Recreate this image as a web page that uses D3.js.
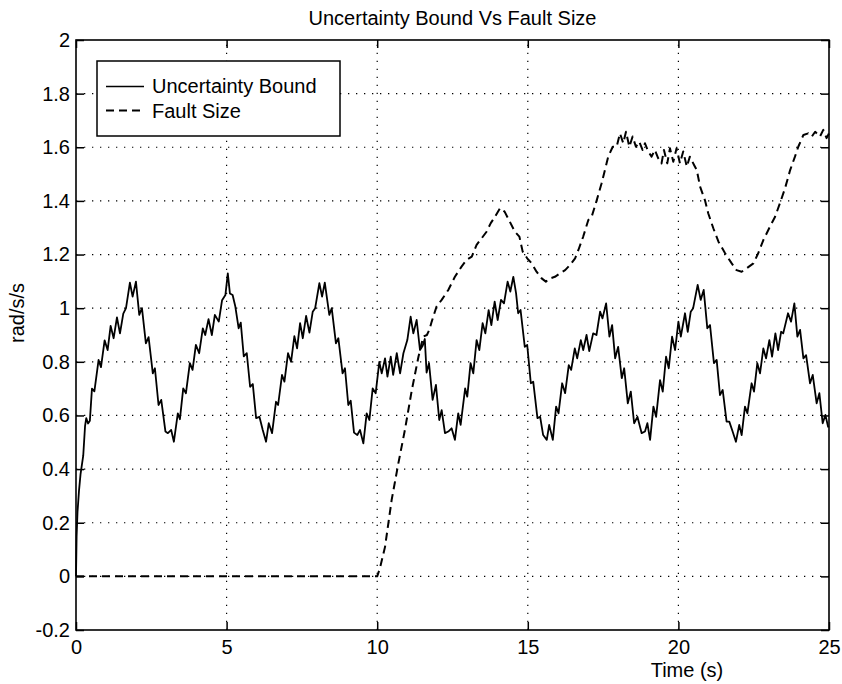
<!DOCTYPE html>
<html>
<head>
<meta charset="utf-8">
<script src="https://cdn.jsdelivr.net/npm/d3@7/dist/d3.min.js"></script>
<style>
  html, body { margin: 0; padding: 0; background: #fff; }
  svg { display: block; }
  text { font-family: Arial, "Liberation Sans", Helvetica, sans-serif; fill: #000; }
</style>
</head>
<body>
<svg id="chart" width="842" height="684"></svg>
<script>
// ---- Data ----
const chartTitle = "Uncertainty Bound Vs Fault Size";
const xLabel = "Time (s)";
const yLabel = "rad/s/s";
const seriesNames = ["Uncertainty Bound", "Fault Size"];
const xTicks = [0, 5, 10, 15, 20, 25];
const yTicks = [-0.2, 0, 0.2, 0.4, 0.6, 0.8, 1, 1.2, 1.4, 1.6, 1.8, 2];

const boundT = [0,0.02,0.05,0.10,0.15,0.24,0.30,0.34,0.40,0.46,0.53,0.61,0.75,0.83,0.95,1.05,1.15,1.25,1.36,1.46,1.57,1.66,1.79,1.88,1.99,2.10,2.19,2.32,2.41,2.55,2.62,2.74,2.83,2.97,3.05,3.16,3.25,3.38,3.45,3.56,3.65,3.78,3.87,3.98,4.09,4.21,4.29,4.40,4.51,4.61,4.74,4.85,4.96,5.04,5.11,5.20,5.29,5.40,5.47,5.57,5.67,5.78,5.87,5.98,6.09,6.20,6.31,6.40,6.51,6.64,6.71,6.84,6.92,7.04,7.14,7.25,7.34,7.44,7.53,7.64,7.75,7.86,7.94,8.08,8.17,8.26,8.41,8.49,8.63,8.71,8.85,8.93,9.04,9.12,9.23,9.34,9.43,9.54,9.65,9.74,9.85,9.95,10.07,10.15,10.26,10.34,10.45,10.53,10.65,10.76,10.87,11.00,11.11,11.20,11.31,11.42,11.51,11.58,11.64,11.72,11.84,11.95,12.06,12.14,12.25,12.36,12.47,12.58,12.69,12.77,12.92,12.99,13.10,13.19,13.30,13.39,13.50,13.59,13.70,13.79,13.90,14.00,14.11,14.21,14.33,14.42,14.52,14.61,14.68,14.76,14.90,14.98,15.10,15.18,15.32,15.41,15.51,15.63,15.71,15.83,15.94,16.02,16.14,16.24,16.36,16.44,16.56,16.64,16.76,16.84,16.95,17.04,17.17,17.28,17.40,17.48,17.60,17.71,17.80,17.90,18.00,18.12,18.20,18.32,18.42,18.53,18.64,18.78,18.89,18.97,19.06,19.17,19.26,19.39,19.48,19.59,19.68,19.79,19.89,20.00,20.08,20.22,20.31,20.41,20.49,20.64,20.74,20.84,20.96,21.05,21.18,21.27,21.38,21.47,21.60,21.69,21.80,21.91,22.02,22.10,22.21,22.29,22.43,22.51,22.62,22.71,22.82,22.91,23.02,23.11,23.22,23.31,23.41,23.48,23.64,23.74,23.85,23.95,24.04,24.15,24.24,24.37,24.46,24.59,24.68,24.79,24.88,24.97,25.00];
const boundV = [0,0.15,0.24,0.32,0.38,0.45,0.56,0.59,0.57,0.58,0.70,0.69,0.807,0.78,0.88,0.844,0.934,0.888,0.966,0.906,0.98,1.0,1.095,1.043,1.099,0.975,1.0,0.869,0.892,0.757,0.776,0.639,0.658,0.540,0.534,0.546,0.502,0.608,0.586,0.701,0.683,0.795,0.770,0.863,0.832,0.925,0.900,0.959,0.900,0.975,0.950,1.030,1.049,1.130,1.055,1.049,1.006,0.925,0.946,0.820,0.832,0.707,0.717,0.590,0.595,0.546,0.502,0.571,0.534,0.651,0.639,0.751,0.726,0.832,0.800,0.896,0.850,0.944,0.888,0.971,0.909,0.987,1.000,1.093,1.043,1.095,0.975,1.000,0.869,0.888,0.757,0.776,0.639,0.655,0.536,0.527,0.546,0.496,0.608,0.583,0.701,0.683,0.800,0.757,0.813,0.745,0.819,0.751,0.832,0.757,0.832,0.881,0.968,0.906,0.956,0.844,0.860,0.885,0.760,0.795,0.658,0.714,0.583,0.620,0.534,0.540,0.552,0.509,0.608,0.565,0.701,0.670,0.795,0.757,0.881,0.844,0.944,0.906,0.993,0.937,1.024,0.956,1.031,1.018,1.099,1.062,1.117,1.056,0.981,0.993,0.856,0.863,0.720,0.726,0.590,0.595,0.527,0.509,0.565,0.509,0.633,0.608,0.720,0.683,0.788,0.770,0.850,0.813,0.881,0.844,0.900,0.840,0.906,0.900,0.987,0.962,1.018,0.894,0.937,0.813,0.856,0.739,0.776,0.645,0.689,0.571,0.595,0.534,0.540,0.571,0.509,0.633,0.595,0.732,0.689,0.819,0.776,0.894,0.844,0.950,0.894,0.981,0.912,0.987,1.000,1.087,1.031,1.068,0.925,0.937,0.795,0.807,0.676,0.695,0.577,0.577,0.540,0.502,0.565,0.527,0.633,0.608,0.720,0.689,0.795,0.757,0.850,0.813,0.881,0.819,0.906,0.844,0.912,0.906,0.981,0.950,1.018,0.894,0.919,0.813,0.825,0.720,0.751,0.645,0.683,0.571,0.602,0.558,0.560];

const faultT = [0,10.00,10.09,10.26,10.48,10.70,10.92,11.15,11.37,11.53,11.65,11.73,11.81,11.97,12.14,12.36,12.58,12.80,12.97,13.14,13.30,13.47,13.63,13.77,13.91,14.08,14.23,14.40,14.57,14.72,14.83,14.98,15.13,15.29,15.46,15.60,15.74,15.90,16.07,16.24,16.40,16.57,16.68,16.84,17.01,17.12,17.29,17.45,17.56,17.67,17.82,17.95,18.06,18.17,18.26,18.37,18.48,18.59,18.70,18.81,18.89,19.00,19.11,19.22,19.33,19.44,19.52,19.63,19.72,19.83,19.94,20.05,20.16,20.28,20.38,20.52,20.61,20.72,20.88,20.99,21.16,21.33,21.55,21.77,21.93,22.10,22.27,22.49,22.65,22.82,23.04,23.21,23.37,23.54,23.71,23.87,23.98,24.15,24.31,24.43,24.54,24.70,24.81,24.92,25.00];
const faultV = [0,0,0.03,0.11,0.285,0.42,0.546,0.695,0.819,0.894,0.900,0.919,0.95,1.006,1.031,1.068,1.117,1.155,1.18,1.192,1.236,1.261,1.285,1.317,1.341,1.373,1.36,1.323,1.285,1.267,1.211,1.186,1.167,1.136,1.111,1.099,1.111,1.117,1.13,1.142,1.161,1.186,1.217,1.267,1.329,1.341,1.403,1.466,1.515,1.565,1.602,1.602,1.652,1.615,1.658,1.602,1.64,1.602,1.621,1.59,1.615,1.584,1.565,1.59,1.559,1.54,1.59,1.54,1.596,1.546,1.596,1.54,1.584,1.528,1.565,1.534,1.515,1.453,1.403,1.354,1.298,1.248,1.205,1.167,1.142,1.136,1.149,1.167,1.205,1.254,1.304,1.341,1.391,1.447,1.515,1.565,1.602,1.646,1.652,1.64,1.658,1.64,1.665,1.634,1.652];

// ---- Layout ----
const W = 842, H = 684;
const L = 76, R = 829, T = 40, B = 630;
const FS = 20;

const svg = d3.select("#chart");
svg.append("rect").attr("width", W).attr("height", H).attr("fill", "#fff");

const x = d3.scaleLinear().domain([0, 25]).range([L, R]);
const y = d3.scaleLinear().domain([-0.2, 2]).range([B, T]);

const fmt = d => (Math.abs(d) < 1e-9 ? "0" : String(+d.toFixed(1)));

// Grid (dotted)
const grid = svg.append("g").attr("stroke", "#000").attr("stroke-width", 1.2)
  .attr("stroke-dasharray", "1.3,6.7").attr("fill", "none");
grid.selectAll("line.gx").data(xTicks.filter(d => d > 0 && d < 25)).enter().append("line")
  .attr("x1", d => x(d)).attr("x2", d => x(d)).attr("y1", B).attr("y2", T);
grid.selectAll("line.gy").data(yTicks.filter(d => d > -0.2 && d < 2)).enter().append("line")
  .attr("x1", L).attr("x2", R).attr("y1", d => y(d)).attr("y2", d => y(d));

// Axes
const tl = 8;
const axB = svg.append("g").attr("transform", `translate(0,${B})`)
  .call(d3.axisBottom(x).tickValues(xTicks).tickFormat(fmt).tickSize(-tl).tickPadding(10));
const axL = svg.append("g").attr("transform", `translate(${L},0)`)
  .call(d3.axisLeft(y).tickValues(yTicks).tickFormat(fmt).tickSize(-tl).tickPadding(6));
const axT = svg.append("g").attr("transform", `translate(0,${T})`)
  .call(d3.axisTop(x).tickValues(xTicks).tickFormat("").tickSize(-tl));
const axR = svg.append("g").attr("transform", `translate(${R},0)`)
  .call(d3.axisRight(y).tickValues(yTicks).tickFormat("").tickSize(-tl));
[axB, axL, axT, axR].forEach(a => {
  a.select(".domain").remove();
  a.selectAll(".tick line").attr("stroke", "#000").attr("stroke-width", 1.5);
  a.selectAll(".tick text").attr("font-size", FS).attr("font-family", "Arial, 'Liberation Sans', sans-serif").attr("fill", "#000");
});

// Box
svg.append("rect").attr("x", L).attr("y", T).attr("width", R - L).attr("height", B - T)
  .attr("fill", "none").attr("stroke", "#000").attr("stroke-width", 1.6);

// Lines
const line = d3.line().x(d => x(d[0])).y(d => y(d[1]));
const boundData = boundT.map((t, i) => [t, boundV[i]]);
const faultData = faultT.map((t, i) => [t, faultV[i]]);

svg.append("path").datum(faultData).attr("d", line)
  .attr("fill", "none").attr("stroke", "#000").attr("stroke-width", 2)
  .attr("stroke-dasharray", "8,5").attr("stroke-linejoin", "round");
svg.append("path").datum(boundData).attr("d", line)
  .attr("fill", "none").attr("stroke", "#000").attr("stroke-width", 1.8)
  .attr("stroke-linejoin", "round");

// Title and labels
svg.append("text").attr("x", (L + R) / 2).attr("y", 25).attr("text-anchor", "middle")
  .attr("font-size", FS).text(chartTitle);
svg.append("text").attr("x", 687).attr("y", 677).attr("text-anchor", "middle")
  .attr("font-size", FS).text(xLabel);
svg.append("text").attr("transform", "translate(24,313) rotate(-90)").attr("text-anchor", "middle")
  .attr("font-size", FS).text(yLabel);

// Legend
const lg = svg.append("g");
lg.append("rect").attr("x", 97).attr("y", 61).attr("width", 243).attr("height", 75)
  .attr("fill", "#fff").attr("stroke", "#000").attr("stroke-width", 1.5);
const legendRows = [
  { name: seriesNames[0], dash: null, ly: 86.5, ty: 93 },
  { name: seriesNames[1], dash: "8,5", ly: 110.5, ty: 117.5 }
];
legendRows.forEach(r => {
  lg.append("line").attr("x1", 106).attr("x2", 144).attr("y1", r.ly).attr("y2", r.ly)
    .attr("stroke", "#000").attr("stroke-width", r.dash ? 2 : 1.5)
    .attr("stroke-dasharray", r.dash);
  lg.append("text").attr("x", 152).attr("y", r.ty).attr("font-size", FS).text(r.name);
});
</script>
</body>
</html>
